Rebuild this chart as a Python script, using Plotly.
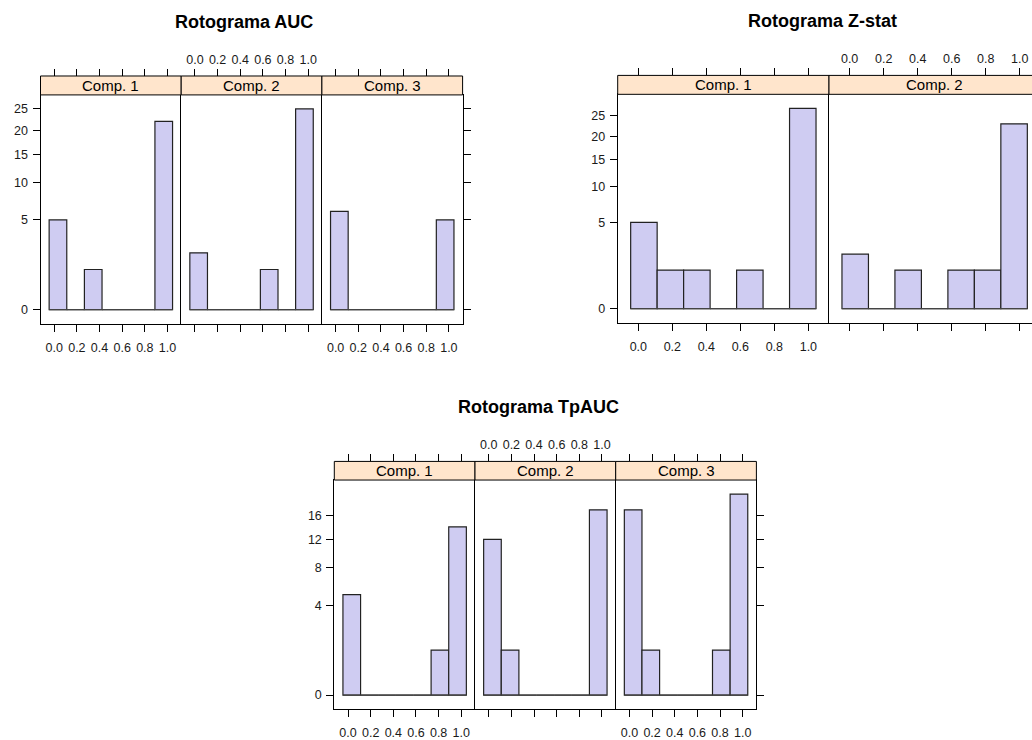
import numpy as np
import plotly.graph_objects as go

# ---------------- data ----------------
BIN_EDGES = [-0.045, 0.1107, 0.2664, 0.4221, 0.5779, 0.7336, 0.8893, 1.045]
X_TICKS = [0.0, 0.2, 0.4, 0.6, 0.8, 1.0]
X_TICK_TEXT = ["0.0", "0.2", "0.4", "0.6", "0.8", "1.0"]
PANEL_LABELS = ["Comp. 1", "Comp. 2", "Comp. 3"]

AUC_COMP1 = [5, 0, 1, 0, 0, 0, 22]
AUC_COMP2 = [2, 0, 0, 0, 1, 0, 25]
AUC_COMP3 = [6, 0, 0, 0, 0, 0, 5]
AUC_Y_TICKS = [0, 5, 10, 15, 20, 25]

ZSTAT_COMP1 = [5, 1, 1, 0, 1, 0, 27]
ZSTAT_COMP2 = [2, 0, 1, 0, 1, 1, 23]
ZSTAT_Y_TICKS = [0, 5, 10, 15, 20, 25]

TPAUC_COMP1 = [5, 0, 0, 0, 0, 1, 14]
TPAUC_COMP2 = [12, 1, 0, 0, 0, 0, 17]
TPAUC_COMP3 = [17, 1, 0, 0, 0, 1, 20]
TPAUC_Y_TICKS = [0, 4, 8, 12, 16]

TITLES = ["Rotograma AUC", "Rotograma Z-stat", "Rotograma TpAUC"]

# ---------------- layout (pixels) ----------------
W, H = 1032, 740
CHARTS = [
    dict(title=TITLES[0], panels=[AUC_COMP1, AUC_COMP2, AUC_COMP3], yticks=AUC_Y_TICKS,
         left=40.5, width=140.7, top=95.3, bottom=325.0, strip_top=76.3, tx=244, ty=21.7),
    dict(title=TITLES[1], panels=[ZSTAT_COMP1, ZSTAT_COMP2], yticks=ZSTAT_Y_TICKS,
         left=617.7, width=211.3, top=94.7, bottom=324.0, strip_top=75.7, tx=822, ty=20.7),
    dict(title=TITLES[2], panels=[TPAUC_COMP1, TPAUC_COMP2, TPAUC_COMP3], yticks=TPAUC_Y_TICKS,
         left=334.3, width=140.7, top=482.0, bottom=712.0, strip_top=463.3, tx=538.3, ty=408.3),
]

FONT = "Liberation Sans, Arial, sans-serif"
BAR_FILL = "#CFCCF2"
STRIP_FILL = "#FFE5CC"
PAD = 0.07
TICK_FONT = dict(size=12.5, color="#1a1a1a", family=FONT)

def fx(p):
    return p / W

def fy(p):
    return 1 - p / H

edges = np.array(BIN_EDGES)
centers = (edges[:-1] + edges[1:]) / 2
widths = np.diff(edges)
span = edges[-1] - edges[0]
xr_full = [edges[0] - PAD * span, edges[-1] + PAD * span]

fig = go.Figure()
layout = dict(width=W, height=H, margin=dict(l=0, r=0, t=0, b=0),
              plot_bgcolor="white", paper_bgcolor="white", showlegend=False,
              font=dict(family=FONT, color="black"), shapes=[], annotations=[])

n_total = sum(len(c["panels"]) for c in CHARTS)
k = 0
for c in CHARTS:
    M = np.sqrt(max(max(p) for p in c["panels"]))
    yr = [-PAD * M, (1 + PAD) * M]
    n = len(c["panels"])
    for j, counts in enumerate(c["panels"]):
        k += 1
        kt = k + n_total
        x0 = c["left"] + j * c["width"]
        x1 = x0 + c["width"]
        clipped = x1 > W
        xr = list(xr_full)
        if clipped:
            xr[1] = xr_full[0] + (W - x0) / c["width"] * (xr_full[1] - xr_full[0])
        dom_x = [fx(x0), fx(min(x1, W))]
        dom_y = [fy(c["bottom"]), fy(c["top"])]
        xn = "x" if k == 1 else f"x{k}"
        yn = "y" if k == 1 else f"y{k}"
        xtn = f"x{kt}"

        # bars
        fig.add_trace(go.Bar(x=centers, y=np.sqrt(np.array(counts, dtype=float)), width=widths,
                             marker=dict(color=BAR_FILL, line=dict(color="#222222", width=1.2)),
                             xaxis=xn, yaxis=yn, hoverinfo="skip"))
        # zero baseline across all bins (on the top axis so it is used)
        fig.add_trace(go.Scatter(x=[edges[0], edges[-1]], y=[0, 0], mode="lines",
                                 line=dict(color="#444444", width=1.2),
                                 xaxis=xtn, yaxis=yn, hoverinfo="skip"))

        axkey = "xaxis" if k == 1 else f"xaxis{k}"
        layout[axkey] = dict(domain=dom_x, anchor=yn, range=xr, tickvals=X_TICKS, ticktext=X_TICK_TEXT,
                             ticks="outside", ticklen=7, tickcolor="black", tickwidth=1,
                             showticklabels=(j % 2 == 0), tickfont=TICK_FONT, ticklabelstandoff=5,
                             showline=True, linecolor="black", linewidth=1, mirror=True,
                             showgrid=False, zeroline=False, fixedrange=True)
        layout[f"xaxis{kt}"] = dict(overlaying=xn, anchor="free", position=fy(c["strip_top"]), side="top",
                                    range=xr, tickvals=X_TICKS, ticktext=X_TICK_TEXT,
                                    ticks="outside", ticklen=7, tickcolor="black", tickwidth=1,
                                    showticklabels=(j % 2 == 1), tickfont=TICK_FONT, ticklabelstandoff=0,
                                    showline=False, showgrid=False, zeroline=False, fixedrange=True)
        ykey = "yaxis" if k == 1 else f"yaxis{k}"
        last_full = (j == n - 1) and not clipped
        yax = dict(domain=dom_y, anchor=xn, range=yr,
                   tickvals=list(np.sqrt(np.array(c["yticks"], dtype=float))),
                   ticktext=[str(v) for v in c["yticks"]],
                   tickfont=TICK_FONT, tickcolor="black", tickwidth=1, ticklen=7,
                   showgrid=False, zeroline=False, fixedrange=True,
                   showline=True, linecolor="black", linewidth=1, mirror=last_full)
        if j == 0:
            yax.update(side="left", ticks="outside", showticklabels=True, ticklabelstandoff=2)
        elif last_full:
            yax.update(side="right", ticks="outside", showticklabels=False)
        else:
            yax.update(side="left", ticks="", showticklabels=False)
        layout[ykey] = yax

        # strip
        layout["shapes"].append(dict(type="rect", xref="paper", yref="paper",
                                     x0=fx(x0), x1=fx(x1), y0=fy(c["top"]), y1=fy(c["strip_top"]),
                                     fillcolor=STRIP_FILL, line=dict(color="black", width=1), layer="above"))
        layout["annotations"].append(dict(text=PANEL_LABELS[j], xref="paper", yref="paper",
                                          x=fx((x0 + x1) / 2), y=fy((c["top"] + c["strip_top"]) / 2),
                                          xanchor="center", yanchor="middle", showarrow=False,
                                          font=dict(size=15, color="black", family=FONT)))
    layout["annotations"].append(dict(text="<b>" + c["title"] + "</b>", xref="paper", yref="paper",
                                      x=fx(c["tx"]), y=fy(c["ty"]), xanchor="center", yanchor="middle",
                                      showarrow=False, font=dict(size=18, color="black", family=FONT)))

fig.update_layout(**layout)
fig.write_html("out.html", config={"displayModeBar": False})
